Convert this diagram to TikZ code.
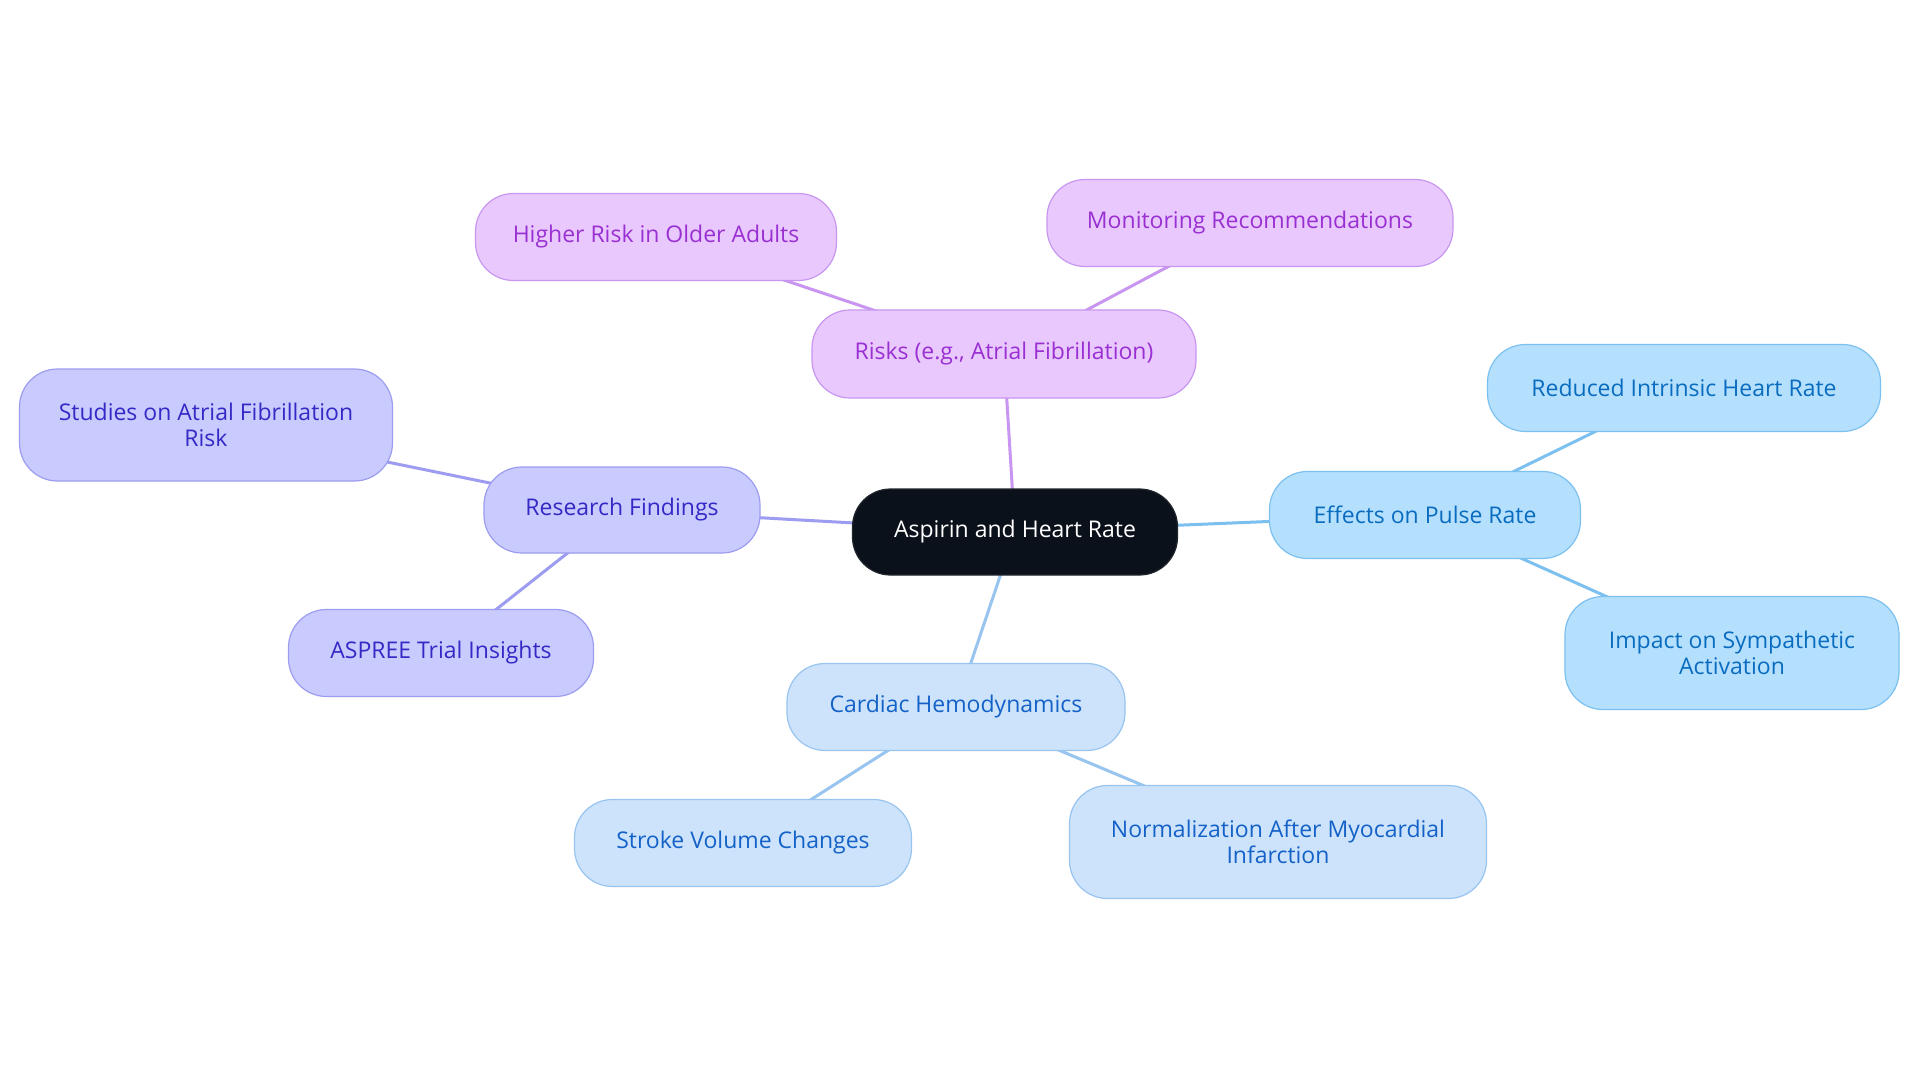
\documentclass[tikz,border=0pt]{standalone}
\usepackage{fontspec}
\setmainfont{Open Sans}
\usetikzlibrary{backgrounds}
\definecolor{cfill}{HTML}{0B111A}
\definecolor{pfill}{HTML}{E8C8FD}
\definecolor{pline}{HTML}{C896F0}
\definecolor{ptext}{HTML}{9A30D2}
\definecolor{lfill}{HTML}{C9CBFE}
\definecolor{lline}{HTML}{9C9CF0}
\definecolor{ltext}{HTML}{3529C6}
\definecolor{bfill}{HTML}{B4E0FE}
\definecolor{bline}{HTML}{7CC0F0}
\definecolor{btext}{HTML}{0A6CBF}
\definecolor{hfill}{HTML}{CDE3FB}
\definecolor{hline}{HTML}{98C4F0}
\definecolor{htext}{HTML}{1462C8}
\tikzset{
  box/.style={rounded corners=38pt, draw, line width=1.2pt, inner sep=0pt, align=center,
    font=\fontsize{23}{26}\selectfont},
  central/.style={box, fill=cfill, draw=cfill!80!gray, text=white},
  pbox/.style={box, fill=pfill, draw=pline, text=ptext},
  lbox/.style={box, fill=lfill, draw=lline, text=ltext},
  bbox/.style={box, fill=bfill, draw=bline, text=btext},
  hbox/.style={box, fill=hfill, draw=hline, text=htext},
  sz/.style 2 args={minimum width=#1pt, minimum height=#2pt},
  pedge/.style={draw=pline, line width=3pt},
  ledge/.style={draw=lline, line width=3pt},
  bedge/.style={draw=bline, line width=3pt},
  hedge/.style={draw=hline, line width=3pt},
}
\begin{document}
\begin{tikzpicture}[x=1pt,y=-1pt]
\useasboundingbox (0,0) rectangle (1920,1083);
\node[central, sz={325}{86}] (c) at (1015,532) {Aspirin and Heart Rate};
\node[pbox, sz={384}{88}] (risk) at (1004,354) {Risks (e.g., Atrial Fibrillation)};
\node[pbox, sz={361}{87}] (older) at (656,237) {Higher Risk in Older Adults};
\node[pbox, sz={406}{87}] (mon) at (1250,223) {Monitoring Recommendations};
\node[lbox, sz={276}{86}] (res) at (622,510) {Research Findings};
\node[lbox, sz={373}{112}] (stud) at (206,425) {Studies on Atrial Fibrillation\\Risk};
\node[lbox, sz={305}{87}] (asp) at (441,653) {ASPREE Trial Insights};
\node[bbox, sz={311}{87}] (eff) at (1425,515) {Effects on Pulse Rate};
\node[bbox, sz={393}{87}] (red) at (1684,388) {Reduced Intrinsic Heart Rate};
\node[bbox, sz={334}{113}] (imp) at (1732,653) {Impact on Sympathetic\\Activation};
\node[hbox, sz={338}{87}] (card) at (956,707) {Cardiac Hemodynamics};
\node[hbox, sz={337}{87}] (stroke) at (743,843) {Stroke Volume Changes};
\node[hbox, sz={417}{113}] (norm) at (1278,842) {Normalization After Myocardial\\Infarction};
\begin{scope}[on background layer]
\fill[white] (0,0) rectangle (1920,1083);
\draw[pedge] (c.center) -- (risk.center);
\draw[pedge] (risk.center) -- (older.center);
\draw[pedge] (risk.center) -- (mon.center);
\draw[ledge] (c.center) -- (res.center);
\draw[ledge] (res.center) -- (stud.center);
\draw[ledge] (res.center) -- (asp.center);
\draw[bedge] (c.center) -- (eff.center);
\draw[bedge] (eff.center) -- (red.center);
\draw[bedge] (eff.center) -- (imp.center);
\draw[hedge] (c.center) -- (card.center);
\draw[hedge] (card.center) -- (stroke.center);
\draw[hedge] (card.center) -- (norm.center);
\end{scope}
\end{tikzpicture}
\end{document}
